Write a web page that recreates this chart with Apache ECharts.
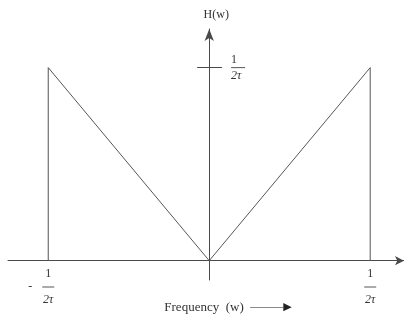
<!DOCTYPE html>
<html>
<head>
<meta charset="utf-8">
<script src="https://cdn.jsdelivr.net/npm/echarts@6/dist/echarts.min.js"></script>
<style>
  html, body { margin: 0; padding: 0; background: #fff; }
  #main { width: 404px; height: 320px; }
</style>
</head>
<body>
<div id="main"></div>
<script>
// frequency in units of 1/(2τ), gain in units of 1/(2τ)
const freq = [-1, -1, 0, 1, 1];
const gain = [0, 1, 0, 1, 0];
const xTicks = [-1, 1];
const yTicks = [1];

const ink = '#4a4a4a';
const serif = 'Liberation Serif, DejaVu Serif, serif';

const fracRich = {
    n: { fontFamily: serif, fontSize: 12, color: '#333', lineHeight: 14 },
    d: { fontFamily: serif, fontSize: 12, color: '#333', lineHeight: 14, fontStyle: 'italic' },
    b: { width: 12, height: 1, backgroundColor: '#555', lineHeight: 12 },
    m: { fontFamily: serif, fontSize: 12, color: '#333', width: 14, align: 'left' },
    s: { width: 14 }
};

var myChart = echarts.init(document.getElementById('main'));
myChart.setOption({
    animation: false,
    grid: { left: 8, right: 0, top: 29, bottom: 40, containLabel: false, outerBoundsMode: 'none' },
    xAxis: {
        type: 'value',
        min: -1.25,
        max: 1.21,
        splitLine: { show: false },
        axisTick: { show: false },
        axisLine: {
            onZero: true,
            symbol: ['none', 'arrow'],
            symbolSize: [7, 9],
            lineStyle: { color: ink, width: 1 }
        },
        axisLabel: {
            customValues: xTicks,
            margin: -13,
            formatter: v => v < 0
                ? '{n|1}\n{m|-}{b| }{s| }\n{d|2τ}'
                : '{n|1}\n{b| }\n{d|2τ}',
            rich: fracRich
        },
        name: 'Frequency  (w)  {a|———▶}',
        nameLocation: 'middle',
        nameGap: 21,
        nameMoveOverlap: false,
        nameTextStyle: {
            fontFamily: serif,
            fontSize: 13,
            color: '#333',
            padding: [0, 0, 0, 44],
            rich: { a: { fontSize: 11, color: '#222' } }
        }
    },
    yAxis: {
        type: 'value',
        min: -0.1,
        max: 1.2,
        splitLine: { show: false },
        axisTick: { show: false },
        axisLabel: { show: false },
        axisLine: {
            onZero: true,
            symbol: ['none', 'arrow'],
            symbolSize: [7, 12],
            lineStyle: { color: ink, width: 1 }
        },
        name: 'H(w)',
        nameLocation: 'end',
        nameGap: 8,
        nameTextStyle: {
            fontFamily: serif,
            fontSize: 12,
            color: '#333',
            padding: [0, 0, 0, 14]
        }
    },
    series: [{
        type: 'line',
        data: freq.map((f, i) => [f, gain[i]]),
        symbol: 'none',
        lineStyle: { color: '#555', width: 1 },
        markLine: {
            silent: true,
            symbol: 'none',
            lineStyle: { color: ink, width: 1, type: 'solid' },
            label: {
                show: true,
                position: 'end',
                distance: 9,
                formatter: () => '{n|1}\n{b| }\n{d|2τ}',
                rich: {
                    n: { fontFamily: serif, fontSize: 12, color: '#333', lineHeight: 12 },
                    d: { fontFamily: serif, fontSize: 12, color: '#333', lineHeight: 12, fontStyle: 'italic' },
                    b: { width: 14, height: 1, backgroundColor: '#555', lineHeight: 4 }
                }
            },
            data: yTicks.map(t => [{ coord: [-0.075, t] }, { coord: [0.08, t] }])
        }
    }]
});
</script>
</body>
</html>
